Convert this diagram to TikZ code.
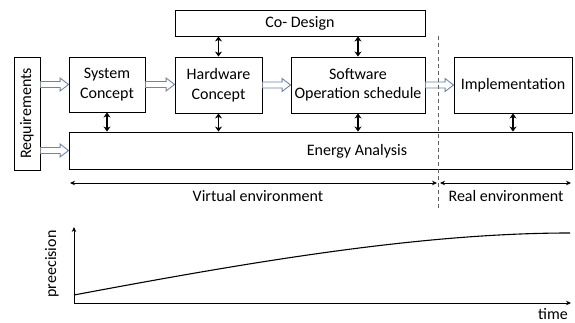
\documentclass[tikz,border=0pt]{standalone}
\usepackage{fontspec}
\setmainfont{Carlito}
\usetikzlibrary{arrows.meta,calc}
\definecolor{hollowline}{HTML}{6F84A8}
\definecolor{dashgray}{HTML}{606060}
\tikzset{
  box/.style={draw=black, line width=0.9pt, fill=white, inner sep=0pt,
    align=center, font=\fontsize{16}{19.5}\selectfont},
  txt/.style={inner sep=0pt, font=\fontsize{16}{19.5}\selectfont},
  link/.style={line width=1.5pt, {Stealth[length=5pt,width=7pt]}-{Stealth[length=5pt,width=7pt]}},
  span/.style={line width=0.9pt, {Stealth[length=5pt,width=4.5pt]}-{Stealth[length=5pt,width=4.5pt]}},
  hollow/.style={draw=hollowline, fill=white, line width=0.9pt, line join=miter,
    to path={let \p1=(\tikztostart), \p2=(\tikztotarget) in
      (\x1,\y1+3pt) -- (\x2-8.5pt,\y1+3pt) -- (\x2-8.5pt,\y1+6.5pt) -- (\x2,\y1)
      -- (\x2-8.5pt,\y1-6.5pt) -- (\x2-8.5pt,\y1-3pt) -- (\x1,\y1-3pt) -- cycle}},
}
\begin{document}
\begin{tikzpicture}[x=1pt,y=-1pt]
\useasboundingbox (0,0) rectangle (575,323);

% upper flow: boxes
\node[box, minimum width=26pt, minimum height=113pt] (req) at (27,113.5)
  {\rotatebox{90}{Requirements}};
\node[box, minimum width=76pt, minimum height=55pt] (sc) at (107,84.5) {System\\Concept};
\node[box, minimum width=87pt, minimum height=56pt] (hw) at (218.5,85) {Hardware\\Concept};
\node[box, minimum width=134pt, minimum height=56pt] (sw) at (358,85) {Software\\Operation schedule};
\node[box, minimum width=118pt, minimum height=56pt] (impl) at (513,85) {Implementation};
\node[box, minimum width=250pt, minimum height=26pt] (cod) at (300,23) {Co- Design};
\node[box, minimum width=503pt, minimum height=37pt] (ea) at (320.5,150.5) {};
\node[txt] (eatxt) at (357,151) {Energy Analysis};

% hand-over arrows
\draw[hollow] (req.east |- sc.west) to (sc.west);
\draw[hollow] (req.east |- ea.west) to (ea.west);
\draw[hollow] (sc.east) to (hw.west);
\draw[hollow] (hw.east) to (sw.west);
\draw[hollow] (sw.east) to (impl.west);

% exchange with co-design and energy analysis
\draw[link] (cod.south -| hw.north) -- (hw.north);
\draw[link] (cod.south -| sw.north) -- (sw.north);
\draw[link] (sc.south) -- (sc.south |- ea.north);
\draw[link] (hw.south) -- (hw.south |- ea.north);
\draw[link] (sw.south) -- (sw.south |- ea.north);
\draw[link] (impl.south) -- (impl.south |- ea.north);

% virtual / real border
\coordinate (bt) at (438,36);
\coordinate (bb) at (438,208);
\draw[dashgray, line width=0.8pt, dash pattern=on 4pt off 3pt] (bt) -- (bb);
\coordinate (vl) at (70,183);
\coordinate (vr) at (437,183);
\coordinate (rl) at (440,183);
\coordinate (rr) at (571,183);
\draw[span] (vl) -- (vr);
\draw[span] (rl) -- (rr);
\node[txt] (vtxt) at (258,196) {Virtual environment};
\node[txt] (rtxt) at (506,196) {Real environment};

% precision over time
\coordinate (o) at (74,303);
\coordinate (ytop) at (74,227);
\coordinate (xend) at (571,303);
\draw[line width=1pt, -{Stealth[length=5pt,width=4.5pt]}] (o) -- (ytop);
\draw[line width=1pt, -{Stealth[length=5pt,width=4.5pt]}] (o) -- (xend);
\coordinate (c0) at (74,295);
\coordinate (c1) at (570,233);
\draw[line width=1.1pt] (c0) .. controls (250,262) and (420,233) .. (c1);
\node[txt, rotate=90] (ylab) at (52,264) {preecision};
\node[txt] (xlab) at (553,314) {time};
\end{tikzpicture}
\end{document}
